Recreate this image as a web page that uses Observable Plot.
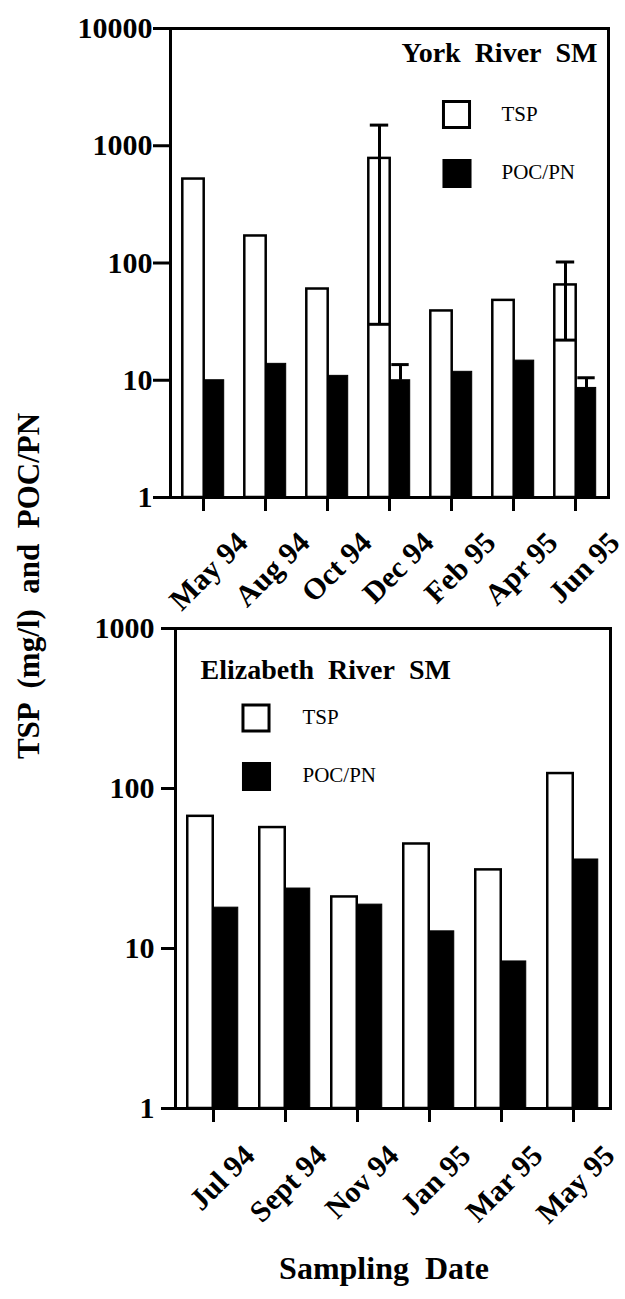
<!DOCTYPE html>
<html><head><meta charset="utf-8">
<script src="https://cdn.jsdelivr.net/npm/d3@7"></script>
<script src="https://cdn.jsdelivr.net/npm/@observablehq/plot@0.6"></script>
<style>
body{margin:0;background:#fff;}
svg{display:block;}
#wrap{position:relative;width:625px;height:1299px;background:#fff;}
#top{position:absolute;left:0;top:0;}
#bottom{position:absolute;left:0;top:590px;}
#ytitle{position:absolute;left:29px;top:586px;transform:translate(-50%,-50%) rotate(-90deg);white-space:pre;font:bold 31px "Liberation Serif",serif;color:#000;}
</style></head><body>
<div id="wrap"><div id="top"></div><div id="bottom"></div><div id="ytitle">TSP  (mg/l)  and  POC/PN</div></div>
<script>
// ---- data ----
const yorkDates = ["May 94","Aug 94","Oct 94","Dec 94","Feb 95","Apr 95","Jun 95"];
const yorkTSP = [520, 170, 60, 780, 39, 48, 65];
const yorkPOC = [10, 13.8, 10.9, 10, 11.8, 14.7, 8.6];
const yorkTSPLow = [null, null, null, 30, null, null, 22];
const yorkTSPHigh = [null, null, null, 1500, null, null, 102];
const yorkPOCHigh = [null, null, null, 13.6, null, null, 10.5];
const yorkTicks = [1, 10, 100, 1000, 10000];

const elizDates = ["Jul 94","Sept 94","Nov 94","Jan 95","Mar 95","May 95"];
const elizTSP = [67, 57, 21, 45, 31, 124];
const elizPOC = [18, 23.7, 18.8, 12.8, 8.3, 36];
const elizTicks = [1, 10, 100, 1000];

const seriesNames = ["TSP", "POC/PN"];
const NB = "\u00a0\u00a0";

const FONT = "Liberation Serif";
const york = yorkDates.map((d, i) => ({date: d, tsp: yorkTSP[i], poc: yorkPOC[i],
  tspLow: yorkTSPLow[i], tspHigh: yorkTSPHigh[i], pocHigh: yorkPOCHigh[i]}));
const eliz = elizDates.map((d, i) => ({date: d, tsp: elizTSP[i], poc: elizPOC[i]}));

function legend(anchor, title, titleOpts, sw, tx) {
  return [
    Plot.text([title], {text: d => d, frameAnchor: anchor, fontSize: 28, fontWeight: "bold", fontFamily: FONT, lineAnchor: "middle", ...titleOpts}),
    Plot.dot([seriesNames[0]], {frameAnchor: anchor, symbol: "square", r: 14.7, fill: "white", stroke: "black", strokeWidth: 3, dx: sw[0], dy: sw[1]}),
    Plot.dot([seriesNames[1]], {frameAnchor: anchor, symbol: "square", r: 14.7, fill: "black", stroke: "black", strokeWidth: 3, dx: sw[0] + 0.5, dy: sw[2]}),
    Plot.text([seriesNames[0]], {text: d => d, frameAnchor: anchor, textAnchor: "start", lineAnchor: "middle", fontSize: 21, fontFamily: FONT, dx: tx[0], dy: tx[1]}),
    Plot.text([seriesNames[1]], {text: d => d, frameAnchor: anchor, textAnchor: "start", lineAnchor: "middle", fontSize: 21, fontFamily: FONT, dx: tx[0], dy: tx[2]})
  ];
}

const topPlot = Plot.plot({
  width: 625, height: 615,
  marginTop: 28, marginBottom: 118, marginLeft: 170, marginRight: 17,
  style: {fontFamily: FONT, color: "black", background: "white"},
  x: {domain: yorkDates, padding: 0, axis: null},
  y: {type: "log", domain: [1, 10000], axis: null},
  marks: [
    Plot.barY(york, {x: "date", y1: 1, y2: "tsp", fill: "white", stroke: "black", strokeWidth: 2.5, insetLeft: 10.3, insetRight: 30.3}),
    Plot.barY(york, {x: "date", y1: 1, y2: "poc", fill: "black", stroke: "black", strokeWidth: 1, insetLeft: 32.3, insetRight: 10.3}),
    Plot.ruleX(york.filter(d => d.tspHigh != null), {x: "date", y1: "tspLow", y2: "tspHigh", dx: -10, strokeWidth: 3}),
    Plot.tickY(york.filter(d => d.tspHigh != null), {x: "date", y: "tspHigh", strokeWidth: 3, insetLeft: 11.8, insetRight: 31.8}),
    Plot.tickY(york.filter(d => d.tspLow != null), {x: "date", y: "tspLow", strokeWidth: 3, insetLeft: 10.3, insetRight: 30.3}),
    Plot.ruleX(york.filter(d => d.pocHigh != null), {x: "date", y1: "poc", y2: "pocHigh", dx: 11, strokeWidth: 3}),
    Plot.tickY(york.filter(d => d.pocHigh != null), {x: "date", y: "pocHigh", strokeWidth: 3, insetLeft: 33.3, insetRight: 11.3}),
    Plot.axisY({ticks: yorkTicks, tickFormat: d => String(d), tickSize: 17, tickPadding: 1, strokeWidth: 3, fontSize: 30, fontWeight: "bold", fontFamily: FONT, label: null}),
    Plot.axisX({tickSize: 14, strokeWidth: 3, fill: "none", label: null}),
    Plot.text(yorkDates, {x: d => d, text: d => d, frameAnchor: "bottom", rotate: -45, textAnchor: "end", lineAnchor: "middle", fontSize: 30, fontWeight: "bold", fontFamily: FONT, dx: 39, dy: 40}),
    ...legend("top-right", "York" + NB + "River" + NB + "SM", {textAnchor: "end", dx: -11, dy: 25}, [-152, 86, 145], [-107, 86, 144]),
    Plot.frame({strokeWidth: 3})
  ]
});

const bottomPlot = Plot.plot({
  width: 625, height: 709,
  marginTop: 38, marginBottom: 191, marginLeft: 175, marginRight: 15,
  style: {fontFamily: FONT, color: "black", background: "none"},
  x: {domain: elizDates, padding: 0, axis: null},
  y: {type: "log", domain: [1, 1000], axis: null},
  marks: [
    Plot.barY(eliz, {x: "date", y1: 1, y2: "tsp", fill: "white", stroke: "black", strokeWidth: 2.5, insetLeft: 10.25, insetRight: 36.25}),
    Plot.barY(eliz, {x: "date", y1: 1, y2: "poc", fill: "black", stroke: "black", strokeWidth: 1, insetLeft: 36.25, insetRight: 11.25}),
    Plot.axisY({ticks: elizTicks, tickFormat: d => String(d), tickSize: 14, tickPadding: 7, strokeWidth: 3, fontSize: 30, fontWeight: "bold", fontFamily: FONT, label: null}),
    Plot.axisX({tickSize: 14, strokeWidth: 3, fill: "none", label: null}),
    Plot.text(elizDates, {x: d => d, text: d => d, frameAnchor: "bottom", rotate: -45, textAnchor: "end", lineAnchor: "middle", fontSize: 30, fontWeight: "bold", fontFamily: FONT, dx: 36, dy: 42}),
    Plot.text(["Sampling" + NB + "Date"], {text: d => d, frameAnchor: "bottom", lineAnchor: "middle", fontSize: 32, fontWeight: "bold", fontFamily: FONT, dx: -9, dy: 160}),
    ...legend("top-left", "Elizabeth" + NB + "River" + NB + "SM", {textAnchor: "start", dx: 25, dy: 42}, [80.5, 89.5, 148], [127, 88.5, 147]),
    Plot.frame({strokeWidth: 3})
  ]
});

document.getElementById("top").appendChild(topPlot);
document.getElementById("bottom").appendChild(bottomPlot);
</script>
</body></html>
